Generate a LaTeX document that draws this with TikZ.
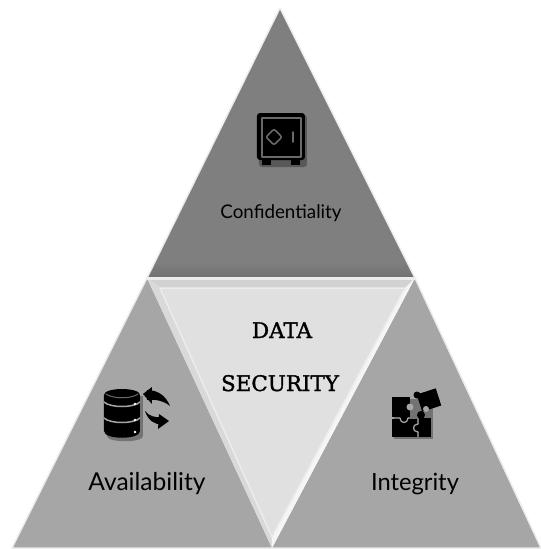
\documentclass[tikz,border=0pt]{standalone}
\usepackage{fontspec}
\setsansfont{Lato}
\newfontfamily\midfont[FakeBold=1.5]{DejaVu Serif}
\definecolor{topgray}{HTML}{7F7F7F}
\definecolor{topdark}{HTML}{707070}
\definecolor{sidegray}{HTML}{A6A6A6}
\definecolor{midgray}{HTML}{E0E0E0}
\definecolor{iconline}{HTML}{6A6A6A}
\tikzset{
  rim/.style={draw=gray!15, line width=0.03cm},
  iconshadow/.style={black, opacity=0.3},
  sidelabel/.style={font=\sffamily\fontsize{14}{16}\selectfont, text=black},
  midlabel/.style={font=\midfont\fontsize{12.2}{14}\selectfont, text=black}
}
\begin{document}
\begin{tikzpicture}[x=0.02cm, y=-0.02cm, line join=round, line cap=round]
\useasboundingbox (0,0) rectangle (541,549);
% Corners of the triangles
\coordinate (apex) at (280,8);
\coordinate (topL) at (147,278);
\coordinate (topR) at (415,278);
\coordinate (botL) at (12,548);
\coordinate (botM) at (272,548);
\coordinate (botR) at (541,548);
\coordinate (inL) at (160,288);
\coordinate (inR) at (405,288);
\coordinate (inB) at (272,537);
% Upper triangle, with its darker band
\fill[topgray] (apex) -- (topR) -- (topL) -- cycle;
\shade[top color=topgray, bottom color=topdark] (155,262) -- (407,262) -- (topR) -- (topL) -- cycle;
\draw[rim] (topL) -- (apex) -- (topR);
% Left and right triangles
\fill[sidegray] (topL) -- (botM) -- (botL) -- cycle;
\fill[sidegray] (topR) -- (botR) -- (botM) -- cycle;
\draw[rim] (topL) -- (botL) -- (botM);
\draw[rim] (topR) -- (botR) -- (botM);
% Middle triangle and its bevel
\fill[midgray] (inL) -- (inR) -- (inB) -- cycle;
\fill[gray!35] (topL) -- (topR) -- (inR) -- (inL) -- cycle;
\fill[gray!30] (topL) -- (inL) -- (inB) -- (botM) -- cycle;
\fill[gray!8] (topR) -- (inR) -- (inB) -- (botM) -- cycle;
\draw[gray!15, line width=0.06cm] (topL) -- (topR);
\draw[gray!15, line width=0.03cm] (inL) -- (inR) -- (inB) -- cycle;
% Safe
\fill[iconshadow, rounded corners=0.06cm] (259,115) rectangle (307,167);
\fill[black, rounded corners=0.06cm] (257,113) rectangle (305,160);
\fill[black] (262,158) rectangle (271,165);
\fill[black] (291,158) rectangle (300,165);
\draw[iconline, line width=0.025cm] (262,118) rectangle (301,157);
\draw[iconline, line width=0.03cm, rounded corners=0.04cm] (274,129) -- (282,137) -- (274,145) -- (266,137) -- cycle;
\draw[iconline, line width=0.03cm] (293,132) -- (293,142);
% Database
\fill[iconshadow] (107,396) -- (143,396) -- (143,436) .. controls (143,443) and (107,443) .. (107,436) -- cycle;
\fill[black] (104,395) .. controls (104,387) and (140,387) .. (140,395) -- (140,431)
  .. controls (140,440) and (104,440) .. (104,431) -- cycle;
\draw[iconline, line width=0.02cm] (106,394) .. controls (112,399) and (132,399) .. (138,394);
\foreach \y in {402,418} {
  \draw[sidegray, line width=0.03cm] (104,\y) .. controls (110,\y+6) and (134,\y+6) .. (140,\y);
  \fill[white] (135,\y+2) circle (1.3);
}
\fill[white] (135,432) circle (1.3);
% Exchange arrows
\fill[black] (147,390) .. controls (158,390) and (166,396) .. (170,406) .. controls (164,401) and (156,399) .. (147,400) -- cycle;
\fill[black] (143,394) -- (152,387) -- (152,404) -- cycle;
\fill[black] (145,411) .. controls (149,416) and (155,418) .. (162,417) -- (162,424) .. controls (154,425) and (148,420) .. (145,411) -- cycle;
\fill[black] (169,421) -- (159,414) -- (158,429) -- cycle;
% Puzzle
\fill[iconshadow] (394,399) rectangle (433,439);
\fill[black] (392,397) rectangle (410,417);
\fill[black] (392,419) rectangle (417,437);
\fill[black] (419,418) rectangle (431,437);
\fill[black] (404,418) circle (4);
\draw[sidegray, line width=0.025cm] (400,418) .. controls (400,424) and (408,424) .. (408,418);
\fill[black] (419,428) circle (4);
\draw[sidegray, line width=0.025cm] (418,424) .. controls (412,424) and (412,432) .. (418,432);
\fill[black] (421,415) circle (4);
\fill[sidegray] (410,407) circle (3.5);
\fill[black, rotate around={18:(429,400)}] (419,391) rectangle (439,409);
\fill[black] (417,395) circle (3.5);
\fill[sidegray] (426,409) circle (3);
% Labels
\node[sidelabel, font=\sffamily\fontsize{10.7}{13}\selectfont, anchor=base] (conf) at (281,218) {Confidentiality};
\node[sidelabel, anchor=base] (avail) at (147,490) {Availability};
\node[sidelabel, font=\sffamily\fontsize{13.5}{16}\selectfont, anchor=base] (integ) at (415,490) {Integrity};
\node[midlabel, anchor=base] (data) at (282,338) {DATA};
\node[midlabel, anchor=base] (secu) at (280,391) {SECURITY};
\end{tikzpicture}
\end{document}
